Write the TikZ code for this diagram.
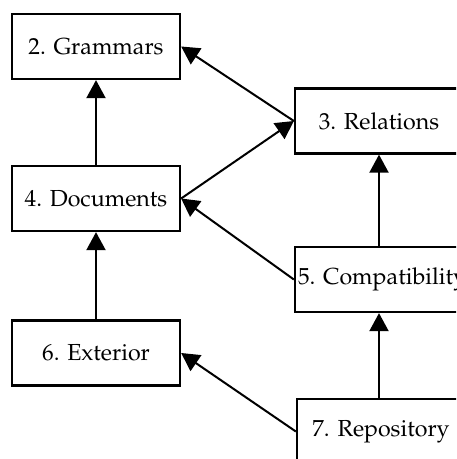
\documentclass[tikz,border=0pt]{standalone}
\usepackage[T1]{fontenc}
\usepackage{mathpazo}
\usetikzlibrary{arrows.meta}
\frenchspacing
\tikzset{
	partbox/.style={rectangle, draw=black, line width=1.15pt, minimum height=32.5pt, text width=81pt, inner xsep=1.5pt, align=center, font=\fontsize{11.6}{14}\selectfont},
	deparrow/.style={-{Triangle[length=9pt, width=9.5pt]}, line width=1pt},
}
\begin{document}
\begin{tikzpicture}[x=0.5pt, y=-0.5pt]
	\clip (0,0) rectangle (456,459);
	% left column
	\node[partbox] (grammars) at (96,46.5) {2. Grammars};
	\node[partbox] (documents) at (96,198.5) {4. Documents};
	\node[partbox] (exterior) at (96,353) {6. Exterior};
	% right column
	\node[partbox] (relations) at (379,121) {3. Relations};
	\node[partbox] (compat) at (379,279.5) {\mbox{5. Compatibility}};
	\node[partbox] (repo) at (381,431.5) {7. Repository};
	% dependencies
	\draw[deparrow] (documents.north) -- (grammars.south);
	\draw[deparrow] (exterior.north) -- (documents.south);
	\draw[deparrow] (compat.north) -- (relations.south);
	\draw[deparrow] (repo.north -| compat.north) -- (compat.south);
	\draw[deparrow] (relations.west) -- (grammars.east);
	\draw[deparrow] (documents.east) -- (relations.west);
	\draw[deparrow] (compat.west) -- (documents.east);
	\draw[deparrow] (repo.west) -- (exterior.east);
\end{tikzpicture}
\end{document}
